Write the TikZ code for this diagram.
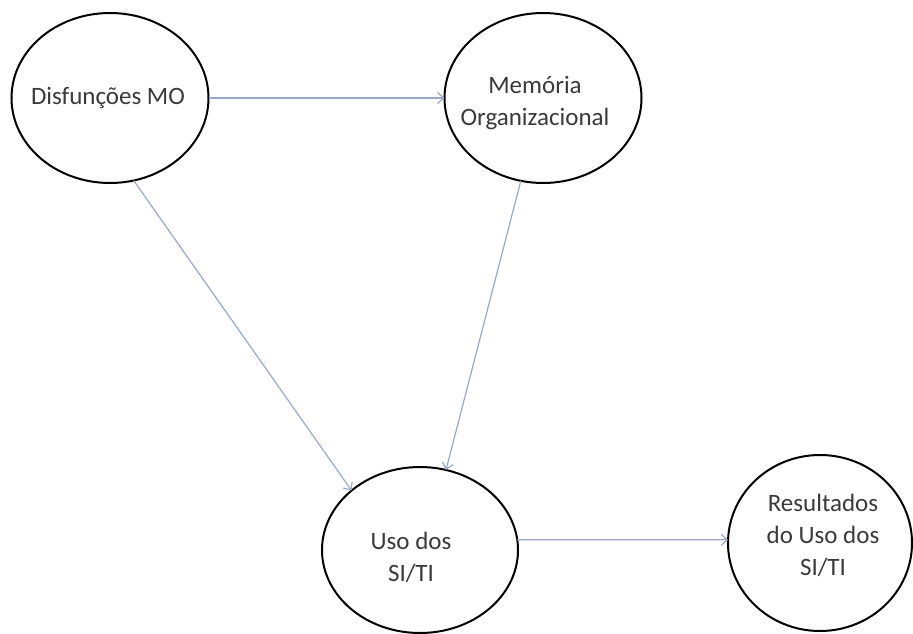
\documentclass[tikz,border=0pt]{standalone}
\usepackage{fontspec}
\setmainfont{Carlito}
\usetikzlibrary{shapes.geometric,arrows.meta}
\definecolor{linkblue}{HTML}{9AA8C8}
\definecolor{txtgrey}{HTML}{3A3A3A}
\begin{document}
\begin{tikzpicture}[x=1pt,y=-1pt,
  concept/.style={ellipse, draw=black, line width=2pt, inner sep=0pt, outer sep=0pt},
  caption/.style={align=center, text=txtgrey, inner sep=0pt,
    font=\fontsize{25pt}{32pt}\selectfont},
  link/.style={draw=linkblue, line width=1.2pt,
    -{Straight Barb[length=6pt,width=11pt,line width=1.2pt]}}]
  \useasboundingbox[fill=white] (0,0) rectangle (913,634);

  % the four concepts
  \node[concept, minimum width=197pt, minimum height=170pt] (dis) at (110,98) {};
  \node[concept, minimum width=197pt, minimum height=170pt] (mem) at (543,98) {};
  \node[concept, minimum width=196pt, minimum height=166pt] (uso) at (420,550) {};
  \node[concept, minimum width=184pt, minimum height=176pt] (res) at (820,543) {};

  % their captions
  \node[caption] (dis-t) at (108,98) {Disfunções MO};
  \node[caption] (mem-t) at (535,103) {Memória\\Organizacional};
  \node[caption] (uso-t) at (411,557) {Uso dos\\SI/TI};
  \node[caption] (res-t) at (823,535) {Resultados\\do Uso dos\\SI/TI};

  % influences
  \draw[link] (dis.east) -- (mem.west);
  \draw[link] (dis.-74) -- (uso.139);
  \draw[link] (mem.-105) -- (uso.72);
  \draw[link] (uso.6) -- (res.178);
\end{tikzpicture}
\end{document}
